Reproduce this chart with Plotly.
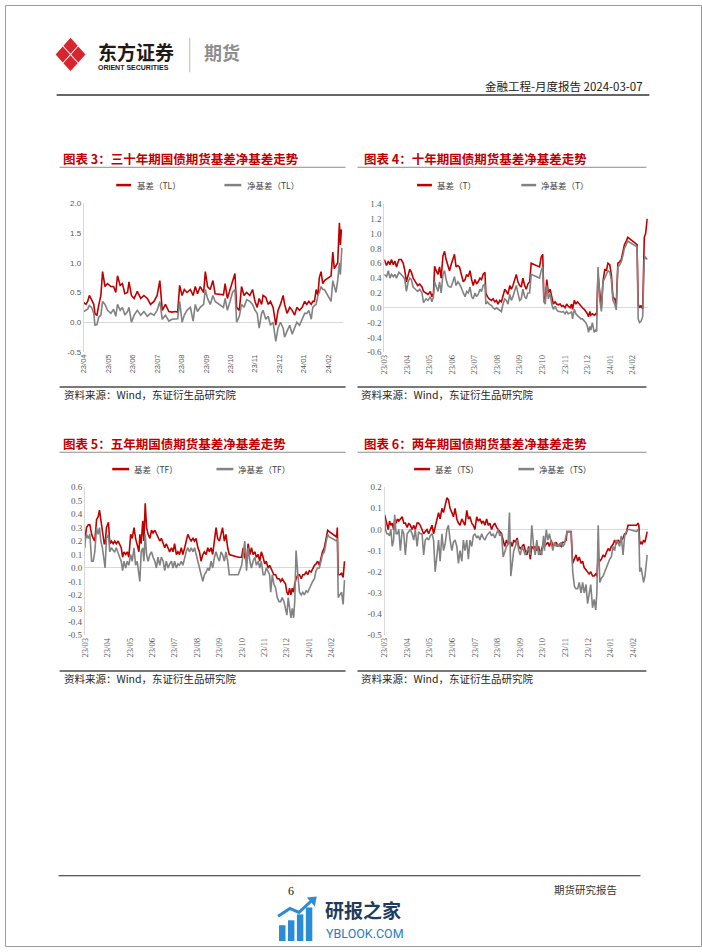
import plotly.graph_objects as go

W, H = 702, 952


def px(x):
    return x / W


def py(y):
    return 1 - y / H


RED = "#C00000"
GRAY = "#828282"
CJK = "Noto Sans CJK SC"

# ---------------- data ----------------
labels_tl = ["23/04", "23/05", "23/06", "23/07", "23/08", "23/09", "23/10", "23/11", "23/12", "24/01", "24/02"]
labels_m = ["23/03", "23/04", "23/05", "23/06", "23/07", "23/08", "23/09", "23/10", "23/11", "23/12", "24/01", "24/02"]

# 30Y (TL): time position in months from first tick
t_tl = [0, 0.09, 0.16, 0.23, 0.32, 0.41, 0.46, 0.54, 0.61, 0.70,
        0.77, 0.87, 0.97, 1.11, 1.22, 1.31, 1.38, 1.49, 1.58, 1.68,
        1.79, 1.85, 1.95, 2.06, 2.19, 2.33, 2.46, 2.60, 2.73, 2.87,
        3.00, 3.11, 3.21, 3.34, 3.48, 3.61, 3.75, 3.84, 3.92, 4.02,
        4.11, 4.22, 4.36, 4.47, 4.56, 4.65, 4.76, 4.90, 4.97, 5.06,
        5.17, 5.28, 5.37, 5.58, 5.71, 5.78, 5.87, 5.98, 6.08, 6.18,
        6.25, 6.36, 6.45, 6.55, 6.66, 6.79, 6.90, 7.00, 7.09, 7.17,
        7.27, 7.33, 7.44, 7.54, 7.63, 7.74, 7.85, 7.94, 8.04, 8.15,
        8.21, 8.31, 8.42, 8.52, 8.62, 8.71, 8.82, 8.93, 9.03, 9.12,
        9.20, 9.30, 9.36, 9.43, 9.50, 9.57, 9.63, 9.70, 9.77, 9.84,
        10.11, 10.18, 10.24, 10.31, 10.38, 10.45, 10.49, 10.53, 10.55]
basis_tl = [0.33, 0.30, 0.35, 0.45, 0.38, 0.30, 0.14, 0.12, 0.28, 0.45,
            0.85, 0.60, 0.65, 0.60, 0.60, 0.50, 0.78, 0.62, 0.65, 0.48,
            0.50, 0.68, 0.45, 0.40, 0.52, 0.40, 0.45, 0.40, 0.30, 0.35,
            0.45, 0.70, 0.20, 0.30, 0.18, 0.17, 0.18, 0.17, 0.62, 0.45,
            0.55, 0.50, 0.55, 0.45, 0.60, 0.48, 0.60, 0.50, 0.85, 0.60,
            0.55, 0.70, 0.48, 0.47, 0.46, 0.65, 0.40, 0.55, 0.70, 0.82,
            0.25, 0.20, 0.60, 0.45, 0.50, 0.45, 0.55, 0.35, 0.25, 0.40,
            0.30, 0.45, 0.42, 0.30, 0.35, 0.25, -0.05, 0.20, 0.30, 0.45,
            0.30, 0.15, 0.25, 0.20, 0.12, 0.25, 0.20, 0.25, 0.35, 0.30,
            0.35, 0.30, 0.35, 0.35, 0.55, 0.45, 0.75, 0.85, 0.65, 0.70,
            0.78, 1.18, 0.90, 0.95, 1.00, 1.67, 1.30, 1.55, 1.55]
net_tl = [0.18, 0.20, 0.22, 0.28, 0.25, 0.15, -0.05, -0.04, 0.08, 0.12,
          0.35, 0.30, 0.20, 0.15, 0.22, 0.10, 0.30, 0.20, 0.25, 0.12,
          0.18, 0.25, 0.00, 0.12, 0.20, 0.12, 0.18, 0.10, 0.15, 0.12,
          0.20, 0.35, 0.05, 0.12, 0.02, 0.05, 0.05, 0.06, 0.35, 0.00,
          0.12, 0.20, 0.25, 0.02, 0.30, 0.18, 0.25, 0.30, 0.55, 0.40,
          0.30, 0.45, 0.35, 0.28, 0.25, 0.40, 0.20, 0.35, 0.50, 0.55,
          0.00, 0.10, 0.30, 0.25, 0.38, 0.35, 0.30, 0.20, 0.15, -0.10,
          0.15, 0.20, 0.05, 0.10, -0.05, 0.00, -0.32, -0.10, 0.00, -0.10,
          -0.25, -0.15, -0.05, -0.20, -0.10, 0.00, -0.05, 0.05, 0.15, 0.15,
          0.20, 0.05, 0.25, 0.28, 0.30, 0.45, 0.50, 0.60, 0.55, 0.55,
          0.35, 0.70, 0.60, 0.50, 0.70, 1.00, 0.80, 1.20, 1.25]

# 10Y (T)
t_t = [0, 0.10, 0.18, 0.25, 0.32, 0.40, 0.47, 0.54, 0.65, 0.75,
       0.84, 0.91, 0.98, 1.06, 1.13, 1.20, 1.28, 1.38, 1.48, 1.57,
       1.67, 1.74, 1.85, 1.94, 2.04, 2.11, 2.18, 2.23, 2.30, 2.38,
       2.45, 2.52, 2.60, 2.67, 2.74, 2.82, 2.89, 2.96, 3.04, 3.11,
       3.18, 3.26, 3.33, 3.40, 3.50, 3.58, 3.65, 3.72, 3.80, 3.87,
       3.94, 4.02, 4.09, 4.16, 4.24, 4.31, 4.38, 4.46, 4.50, 4.57,
       4.65, 4.75, 4.82, 4.90, 4.97, 5.04, 5.12, 5.19, 5.26, 5.34,
       5.41, 5.48, 5.56, 5.63, 5.70, 5.78, 5.85, 5.92, 6.00, 6.07,
       6.14, 6.22, 6.29, 6.36, 6.44, 6.51, 6.88, 6.95, 7.02, 7.07,
       7.13, 7.20, 7.27, 7.35, 7.42, 7.49, 7.57, 7.64, 7.71, 7.79,
       7.86, 7.93, 8.01, 8.08, 8.15, 8.23, 8.30, 8.34, 8.42, 8.49,
       8.56, 8.64, 8.71, 8.78, 8.86, 8.93, 9.00, 9.05, 9.11, 9.15,
       9.22, 9.30, 9.37, 9.41, 9.47, 9.55, 9.62, 9.69, 9.77, 9.84,
       9.91, 9.99, 10.06, 10.13, 10.21, 10.28, 10.35, 10.43, 10.50, 10.57,
       10.64, 10.72, 10.79, 10.88, 11.20, 11.25, 11.31, 11.38, 11.45, 11.52,
       11.58, 11.65]
basis_t = [0.65, 0.57, 0.63, 0.58, 0.65, 0.58, 0.63, 0.55, 0.65, 0.65,
           0.60, 0.50, 0.35, 0.45, 0.52, 0.48, 0.40, 0.35, 0.30, 0.32,
           0.28, 0.22, 0.20, 0.18, 0.22, 0.15, 0.20, 0.56, 0.50, 0.45,
           0.55, 0.40, 0.70, 0.76, 0.65, 0.55, 0.50, 0.58, 0.65, 0.72,
           0.55, 0.57, 0.55, 0.45, 0.35, 0.38, 0.45, 0.42, 0.50, 0.38,
           0.30, 0.38, 0.32, 0.35, 0.40, 0.38, 0.45, 0.48, 0.20, 0.15,
           0.12, 0.10, 0.12, 0.08, 0.10, 0.05, 0.10, 0.08, 0.18, 0.25,
           0.22, 0.18, 0.30, 0.25, 0.30, 0.38, 0.45, 0.35, 0.30, 0.28,
           0.40, 0.30, 0.25, 0.32, 0.35, 0.60, 0.55, 0.68, 0.72, 0.15,
           0.10, 0.38, 0.20, 0.25, 0.12, 0.05, 0.08, 0.05, 0.04, 0.05,
           0.02, 0.03, 0.00, 0.05, 0.02, 0.00, 0.05, -0.02, 0.10, 0.05,
           0.08, 0.05, 0.02, 0.00, -0.02, -0.05, -0.08, -0.12, -0.05, -0.10,
           -0.08, -0.10, -0.08, -0.10, 0.45, 0.20, 0.00, 0.35, 0.52, 0.50,
           0.60, 0.58, 0.45, 0.15, 0.12, 0.05, 0.60, 0.62, 0.65, 0.75,
           0.85, 0.90, 0.95, 0.93, 0.85, 0.05, 0.00, 0.03, -0.02, 0.95,
           1.00, 1.20]
net_t = [0.45, 0.42, 0.50, 0.40, 0.45, 0.42, 0.45, 0.40, 0.48, 0.45,
         0.42, 0.38, 0.22, 0.35, 0.40, 0.38, 0.28, 0.25, 0.22, 0.25,
         0.20, 0.07, 0.12, 0.10, 0.15, 0.08, 0.15, 0.35, 0.30, 0.22,
         0.35, 0.20, 0.45, 0.50, 0.38, 0.30, 0.28, 0.28, 0.35, 0.42,
         0.30, 0.35, 0.32, 0.28, 0.20, 0.15, 0.22, 0.20, 0.28, 0.15,
         0.12, 0.20, 0.15, 0.18, 0.25, 0.22, 0.30, 0.32, 0.05, 0.08,
         0.05, 0.03, 0.00, -0.02, 0.00, -0.02, -0.03, -0.05, 0.05, 0.12,
         0.10, 0.05, 0.18, 0.10, 0.15, 0.22, 0.30, 0.20, 0.10, 0.12,
         0.25, 0.15, 0.12, 0.20, 0.20, 0.45, 0.40, 0.50, 0.55, 0.08,
         0.05, 0.30, 0.12, 0.20, 0.05, -0.02, 0.02, -0.03, -0.05, -0.05,
         -0.06, -0.05, -0.08, -0.05, -0.08, -0.07, -0.05, -0.15, -0.02, -0.08,
         -0.10, -0.12, -0.15, -0.15, -0.18, -0.20, -0.25, -0.33, -0.25, -0.30,
         -0.20, -0.33, -0.30, -0.32, 0.55, 0.10, -0.05, 0.35, 0.40, 0.45,
         0.50, 0.48, 0.38, 0.10, 0.05, -0.03, 0.55, 0.58, 0.62, 0.70,
         0.80, 0.85, 0.90, 0.88, 0.82, -0.15, -0.20, -0.18, -0.12, 0.65,
         0.68, 0.65]

# 5Y (TF)
t_tf = [0, 0.01, 0.07, 0.15, 0.22, 0.30, 0.37, 0.44, 0.52, 0.59,
        0.65, 0.71, 0.78, 0.86, 0.90, 0.96, 1.05, 1.11, 1.18, 1.26,
        1.33, 1.40, 1.48, 1.55, 1.62, 1.68, 1.74, 1.82, 1.89, 1.96,
        2.04, 2.11, 2.19, 2.26, 2.33, 2.41, 2.45, 2.51, 2.58, 2.63,
        2.69, 2.75, 2.82, 2.90, 2.97, 3.04, 3.12, 3.19, 3.26, 3.34,
        3.41, 3.49, 3.56, 3.63, 3.71, 3.78, 3.86, 3.93, 4.00, 4.08,
        4.15, 4.22, 4.30, 4.37, 4.45, 4.52, 4.59, 4.67, 4.74, 4.82,
        4.89, 4.96, 5.04, 5.11, 5.18, 5.26, 5.33, 5.41, 5.48, 5.55,
        5.63, 5.70, 5.78, 5.85, 5.92, 6.00, 6.07, 6.14, 6.22, 6.29,
        6.37, 6.44, 6.84, 6.99, 7.06, 7.13, 7.21, 7.28, 7.36, 7.43,
        7.50, 7.58, 7.65, 7.73, 7.80, 7.87, 7.95, 8.02, 8.09, 8.17,
        8.24, 8.29, 8.36, 8.43, 8.51, 8.58, 8.66, 8.73, 8.80, 8.88,
        8.95, 9.01, 9.07, 9.13, 9.19, 9.25, 9.31, 9.36, 9.42, 9.50,
        9.57, 9.65, 9.72, 9.79, 9.87, 9.94, 10.01, 10.09, 10.16, 10.24,
        10.31, 10.38, 10.46, 10.53, 10.60, 10.68, 10.75, 10.83, 10.90, 11.23,
        11.26, 11.30, 11.37, 11.45, 11.52, 11.58]
basis_tf = [0.25, 0.22, 0.30, 0.32, 0.32, 0.25, 0.22, 0.20, 0.36, 0.38,
            0.43, 0.35, 0.25, 0.18, 0.18, 0.30, 0.34, 0.18, 0.20, 0.18,
            0.20, 0.18, 0.20, 0.18, 0.15, 0.08, 0.12, 0.10, 0.12, 0.08,
            0.25, 0.22, 0.30, 0.22, 0.18, 0.12, 0.25, 0.18, 0.35, 0.20,
            0.48, 0.30, 0.25, 0.22, 0.28, 0.26, 0.28, 0.25, 0.22, 0.20,
            0.22, 0.18, 0.15, 0.18, 0.15, 0.12, 0.15, 0.12, 0.18, 0.10,
            0.12, 0.10, 0.15, 0.10, 0.15, 0.20, 0.25, 0.22, 0.20, 0.22,
            0.20, 0.22, 0.15, 0.12, 0.05, 0.10, 0.12, 0.10, 0.15, 0.12,
            0.15, 0.10, 0.20, 0.30, 0.22, 0.20, 0.25, 0.30, 0.20, 0.25,
            0.15, 0.10, 0.08, 0.08, 0.15, 0.08, 0.05, 0.18, 0.10, 0.15,
            0.10, 0.12, 0.08, 0.10, 0.05, 0.12, 0.08, 0.03, 0.05, 0.00,
            0.02, 0.00, -0.02, -0.05, -0.05, -0.08, -0.08, -0.10, -0.08, -0.10,
            -0.12, -0.18, -0.20, -0.15, -0.20, -0.15, -0.18, -0.12, -0.08, -0.05,
            -0.05, -0.08, -0.05, -0.05, -0.03, -0.05, -0.02, -0.03, 0.00, 0.02,
            0.03, 0.05, 0.02, 0.08, 0.12, 0.15, 0.20, 0.28, 0.27, 0.23,
            0.30, -0.05, -0.05, -0.04, -0.07, 0.05]
net_tf = [0.15, 0.20, 0.25, 0.22, 0.25, 0.05, 0.05, 0.12, 0.30, 0.25,
          0.30, 0.20, 0.15, 0.05, 0.00, 0.22, 0.25, 0.12, 0.15, 0.13,
          0.12, 0.15, 0.12, 0.08, 0.05, -0.02, 0.05, 0.00, 0.05, 0.02,
          0.10, 0.05, 0.15, 0.02, 0.05, -0.05, -0.10, 0.12, 0.15, 0.05,
          0.25, 0.10, 0.05, 0.10, 0.12, 0.08, 0.05, 0.00, 0.08, 0.02,
          0.08, 0.05, -0.02, 0.05, 0.00, 0.03, 0.05, 0.00, 0.05, 0.00,
          0.03, 0.02, 0.05, 0.02, 0.08, 0.12, 0.15, 0.12, 0.15, 0.12,
          0.15, 0.10, 0.05, 0.00, -0.05, -0.10, -0.05, -0.03, 0.00, -0.02,
          0.05, 0.00, 0.08, 0.12, 0.08, 0.05, 0.12, 0.10, 0.05, 0.12,
          0.05, -0.05, -0.05, 0.02, 0.10, 0.20, -0.02, 0.15, 0.05, 0.00,
          0.05, 0.08, 0.02, 0.05, 0.00, 0.05, -0.05, -0.05, 0.00, -0.03,
          -0.05, -0.18, -0.05, -0.12, -0.15, -0.22, -0.25, -0.25, -0.22, -0.25,
          -0.30, -0.35, -0.22, -0.30, -0.37, -0.30, -0.37, -0.25, 0.13, -0.05,
          -0.18, -0.20, -0.18, -0.20, -0.17, -0.18, -0.15, -0.12, -0.10, -0.08,
          -0.02, 0.00, 0.00, 0.05, 0.10, 0.12, 0.18, 0.25, 0.23, 0.20,
          0.22, -0.22, -0.20, -0.18, -0.27, -0.09]

# 2Y (TS)
t_ts = [0, 0.04, 0.10, 0.16, 0.22, 0.28, 0.34, 0.40, 0.45, 0.51,
        0.57, 0.63, 0.70, 0.78, 0.85, 0.92, 1.00, 1.07, 1.14, 1.22,
        1.29, 1.36, 1.44, 1.51, 1.58, 1.66, 1.73, 1.80, 1.88, 1.95,
        2.02, 2.10, 2.17, 2.24, 2.32, 2.39, 2.46, 2.54, 2.61, 2.68,
        2.76, 2.83, 2.90, 2.98, 3.05, 3.12, 3.20, 3.27, 3.34, 3.42,
        3.49, 3.56, 3.64, 3.71, 3.78, 3.86, 3.93, 4.00, 4.08, 4.15,
        4.22, 4.30, 4.37, 4.44, 4.52, 4.59, 4.66, 4.74, 4.81, 4.88,
        4.96, 5.03, 5.10, 5.18, 5.25, 5.32, 5.40, 5.47, 5.53, 5.59,
        5.65, 5.72, 5.79, 5.87, 5.94, 6.01, 6.09, 6.16, 6.23, 6.30,
        6.38, 6.45, 6.52, 6.60, 6.67, 6.74, 6.82, 6.89, 6.96, 7.04,
        7.08, 7.16, 7.23, 7.30, 7.38, 7.45, 7.52, 7.60, 7.67, 7.74,
        7.82, 7.89, 7.96, 8.04, 8.08, 8.26, 8.33, 8.41, 8.48, 8.55,
        8.62, 8.70, 8.77, 8.84, 8.92, 8.99, 9.06, 9.13, 9.21, 9.28,
        9.35, 9.40, 9.46, 9.53, 9.60, 9.68, 9.75, 9.82, 9.90, 9.97,
        10.04, 10.12, 10.19, 10.26, 10.34, 10.41, 10.48, 10.56, 10.63, 10.70,
        10.78, 10.84, 11.16, 11.22, 11.26, 11.30, 11.36, 11.41, 11.47, 11.53,
        11.60, 11.63]
basis_ts = [0.07, 0.05, 0.02, 0.00, 0.04, 0.02, 0.03, 0.00, 0.05, 0.03,
            0.05, 0.04, 0.05, 0.06, 0.03, 0.03, 0.01, 0.03, 0.02, 0.00,
            0.02, 0.00, 0.03, 0.03, 0.02, 0.00, -0.02, -0.01, 0.00, -0.02,
            0.00, 0.02, -0.02, 0.01, 0.05, 0.08, 0.05, 0.10, 0.08, 0.12,
            0.15, 0.14, 0.10, 0.08, 0.06, 0.10, 0.05, 0.03, 0.02, 0.05,
            0.03, 0.02, 0.09, 0.05, 0.06, 0.03, 0.02, 0.00, 0.06, 0.04,
            0.05, 0.03, 0.04, 0.02, 0.05, 0.02, 0.03, 0.00, 0.02, 0.03,
            0.01, 0.00, -0.01, -0.02, -0.05, -0.08, -0.05, -0.07, -0.06, -0.06,
            -0.08, -0.05, -0.06, -0.04, -0.08, -0.09, -0.08, -0.07, -0.10, -0.12,
            -0.08, -0.14, -0.08, -0.09, -0.08, -0.10, -0.08, -0.12, -0.09, -0.07,
            -0.08, -0.07, -0.06, -0.08, -0.05, -0.08, -0.07, -0.06, -0.08, -0.07,
            -0.08, -0.06, -0.06, -0.05, -0.01, -0.01, -0.16, -0.14, -0.12, -0.15,
            -0.13, -0.16, -0.15, -0.18, -0.19, -0.20, -0.21, -0.20, -0.22, -0.22,
            -0.21, -0.22, -0.13, -0.15, -0.14, -0.12, -0.13, -0.11, -0.09, -0.10,
            -0.08, -0.07, -0.05, -0.07, -0.05, -0.06, -0.05, -0.04, -0.02, -0.02,
            0.02, 0.02, 0.02, 0.03, 0.02, -0.07, -0.06, -0.07, -0.05, -0.06,
            -0.02, -0.01]
net_ts = [0.05, 0.00, -0.02, -0.02, -0.03, 0.00, -0.08, -0.05, 0.07, -0.02,
          -0.02, 0.00, -0.10, 0.00, -0.02, -0.12, -0.02, -0.01, 0.00, -0.02,
          -0.05, 0.00, -0.08, -0.01, -0.02, -0.02, -0.12, -0.05, -0.04, -0.05,
          -0.03, -0.02, -0.05, -0.20, -0.10, -0.05, -0.15, -0.02, -0.10, -0.07,
          0.00, 0.02, -0.05, -0.10, -0.06, -0.05, -0.08, -0.16, -0.10, -0.15,
          -0.05, -0.10, -0.05, -0.14, -0.05, -0.08, -0.03, -0.02, -0.04, -0.03,
          -0.05, -0.02, -0.04, -0.05, -0.03, -0.02, -0.01, -0.03, -0.02, -0.04,
          -0.02, 0.00, -0.03, -0.02, -0.13, -0.10, -0.08, -0.07, 0.08, -0.22,
          -0.15, -0.10, -0.08, -0.05, -0.10, -0.12, -0.08, -0.10, -0.12, -0.10,
          -0.09, -0.12, 0.02, -0.08, -0.12, -0.05, -0.12, -0.10, -0.12, -0.03,
          -0.10, 0.00, -0.05, -0.02, -0.06, -0.10, -0.06, -0.08, -0.07, -0.08,
          -0.06, -0.08, -0.07, -0.02, -0.01, -0.01, -0.20, -0.27, -0.28, -0.28,
          -0.25, -0.30, -0.25, -0.30, -0.26, -0.35, -0.30, -0.26, -0.37, -0.33,
          -0.38, -0.30, 0.02, -0.25, -0.23, -0.22, -0.20, -0.18, -0.15, -0.14,
          -0.13, -0.08, -0.10, -0.05, -0.06, -0.08, -0.03, -0.12, -0.03, -0.01,
          0.00, 0.00, -0.01, 0.00, -0.01, -0.20, -0.18, -0.22, -0.25, -0.22,
          -0.13, -0.12]

yticks_tl = [-0.5, 0.0, 0.5, 1.0, 1.5, 2.0]
yticks_t = [-0.6, -0.4, -0.2, 0.0, 0.2, 0.4, 0.6, 0.8, 1.0, 1.2, 1.4]
yticks_tf = [-0.5, -0.4, -0.3, -0.2, -0.1, 0.0, 0.1, 0.2, 0.3, 0.4, 0.5, 0.6]
yticks_ts = [-0.5, -0.4, -0.3, -0.2, -0.1, 0.0, 0.1, 0.2]

titles = ["图表 3：三十年期国债期货基差净基差走势", "图表 4：十年期国债期货基差净基差走势",
          "图表 5：五年期国债期货基差净基差走势", "图表 6：两年期国债期货基差净基差走势"]
codes = ["TL", "T", "TF", "TS"]
source_text = "资料来源：Wind，东证衍生品研究院"

# ---------------- layout of the four panels ----------------
panels = [
    dict(t=t_tl, a=basis_tl, b=net_tl, xl=labels_tl, yt=yticks_tl,
         xdom=[79.3, 340.5], ydom=[350.7, 200.3], xr=[0, 10.6], yr=[-0.5, 2.0],
         fam="Liberation Sans", fs=7.5, yfs=8,
         tx=56, ty=155, ux=[55, 343], uy=164, ly=182,
         leg=[112, 127, 131, 221, 238, 242], sy=394, sly=386, sx=[55, 343]),
    dict(t=t_t, a=basis_t, b=net_t, xl=labels_m, yt=yticks_t,
         xdom=[382, 647.5], ydom=[351, 201], xr=[0, 11.68], yr=[-0.6, 1.4],
         fam="Liberation Serif", fs=8.5, yfs=9,
         tx=360, ty=155, ux=[355, 646], uy=164, ly=182,
         leg=[415, 430, 433, 520, 535, 538], sy=394, sly=386, sx=[355, 646]),
    dict(t=t_tf, a=basis_tf, b=net_tf, xl=labels_m, yt=yticks_tf,
         xdom=[80.5, 343.5], ydom=[637, 487.3], xr=[0, 11.65], yr=[-0.5, 0.6],
         fam="Liberation Serif", fs=8.5, yfs=9,
         tx=56, ty=443, ux=[55, 343], uy=452, ly=469,
         leg=[108, 125, 128, 213, 230, 233], sy=681, sly=673, sx=[55, 343]),
    dict(t=t_ts, a=basis_ts, b=net_ts, xl=labels_m, yt=yticks_ts,
         xdom=[382.3, 647.5], ydom=[637, 487.3], xr=[0, 11.66], yr=[-0.5, 0.2],
         fam="Liberation Serif", fs=8.5, yfs=9,
         tx=360, ty=443, ux=[355, 646], uy=452, ly=469,
         leg=[412, 428, 431, 517, 533, 536], sy=681, sly=673, sx=[355, 646]),
]

fig = go.Figure()
shapes = []
annots = []
layout_axes = {}

for i, p in enumerate(panels):
    k = "" if i == 0 else str(i + 1)
    xa, ya = "x" + k, "y" + k
    fig.add_trace(go.Scatter(x=p["t"], y=p["a"], mode="lines", xaxis=xa, yaxis=ya,
                             line=dict(color=RED, width=1.6), showlegend=False, hoverinfo="skip"))
    fig.add_trace(go.Scatter(x=p["t"], y=p["b"], mode="lines", xaxis=xa, yaxis=ya,
                             line=dict(color=GRAY, width=1.6), showlegend=False, hoverinfo="skip"))
    layout_axes["xaxis" + k] = dict(
        domain=[px(p["xdom"][0]), px(p["xdom"][1])], range=p["xr"], anchor=ya,
        tickmode="array", tickvals=list(range(len(p["xl"]))), ticktext=p["xl"],
        tickangle=-90, showgrid=False, zeroline=False, showline=False, ticks="",
        tickfont=dict(family=p["fam"], size=p["fs"], color="#595959"), fixedrange=True)
    layout_axes["yaxis" + k] = dict(
        domain=[py(p["ydom"][0]), py(p["ydom"][1])], range=p["yr"], anchor=xa,
        tickmode="array", tickvals=p["yt"], ticktext=[f"{v:.1f}" for v in p["yt"]],
        showgrid=False, zeroline=True, zerolinecolor="#D9D9D9", zerolinewidth=1,
        showline=True, linecolor="#D9D9D9", linewidth=1, ticks="",
        tickfont=dict(family=p["fam"], size=p["yfs"], color="#595959"), fixedrange=True)

    # title
    annots.append(dict(x=px(p["tx"]), y=py(p["ty"]), xref="paper", yref="paper",
                       text="<b>" + titles[i] + "</b>", showarrow=False, xanchor="left", yanchor="middle",
                       font=dict(family=CJK, size=12.5, color=RED)))
    shapes.append(dict(type="line", xref="paper", yref="paper",
                       x0=px(p["ux"][0]), x1=px(p["ux"][1]), y0=py(p["uy"]), y1=py(p["uy"]),
                       line=dict(color="#8C8C8C", width=1)))
    # legend
    lg = p["leg"]
    shapes.append(dict(type="line", xref="paper", yref="paper", x0=px(lg[0]), x1=px(lg[1]),
                       y0=py(p["ly"]), y1=py(p["ly"]), line=dict(color=RED, width=2.5)))
    shapes.append(dict(type="line", xref="paper", yref="paper", x0=px(lg[3]), x1=px(lg[4]),
                       y0=py(p["ly"]), y1=py(p["ly"]), line=dict(color=GRAY, width=2.5)))
    annots.append(dict(x=px(lg[2]), y=py(p["ly"]), xref="paper", yref="paper",
                       text="基差（" + codes[i] + "）", showarrow=False, xanchor="left", yanchor="middle",
                       font=dict(family=CJK, size=8.5, color="#404040")))
    annots.append(dict(x=px(lg[5]), y=py(p["ly"]), xref="paper", yref="paper",
                       text="净基差（" + codes[i] + "）", showarrow=False, xanchor="left", yanchor="middle",
                       font=dict(family=CJK, size=8.5, color="#404040")))
    # source
    shapes.append(dict(type="line", xref="paper", yref="paper",
                       x0=px(p["sx"][0]), x1=px(p["sx"][1]), y0=py(p["sly"]), y1=py(p["sly"]),
                       line=dict(color="#4D4D4D", width=1.5)))
    annots.append(dict(x=px(p["sx"][0] + 2), y=py(p["sy"]), xref="paper", yref="paper",
                       text=source_text, showarrow=False, xanchor="left", yanchor="middle",
                       font=dict(family=CJK, size=10.5, color="#262626")))

# ---------------- page header / footer ----------------
def diamond(cx, cy, hw, hh, color):
    path = (f"M {px(cx)} {py(cy - hh)} L {px(cx + hw)} {py(cy)} "
            f"L {px(cx)} {py(cy + hh)} L {px(cx - hw)} {py(cy)} Z")
    return dict(type="path", xref="paper", yref="paper", path=path,
                fillcolor=color, line=dict(width=0))

LOGO = "#D9232D"
lx, lyc = 66, 50
shapes += [diamond(lx, lyc - 8.8, 7.2, 8.0, LOGO), diamond(lx, lyc + 8.8, 7.2, 8.0, LOGO),
           diamond(lx - 7.8, lyc, 7.2, 8.0, LOGO), diamond(lx + 7.8, lyc, 7.2, 8.0, LOGO)]

annots.append(dict(x=px(92), y=py(47), xref="paper", yref="paper", text="<b>东方证券</b>",
                   showarrow=False, xanchor="left", yanchor="middle",
                   font=dict(family=CJK, size=19, color="#231815")))
annots.append(dict(x=px(92), y=py(63), xref="paper", yref="paper", text="<b>ORIENT SECURITIES</b>",
                   showarrow=False, xanchor="left", yanchor="middle",
                   font=dict(family="Liberation Sans", size=7, color="#231815")))
shapes.append(dict(type="line", xref="paper", yref="paper", x0=px(186), x1=px(186),
                   y0=py(33), y1=py(68), line=dict(color="#CFC6B4", width=1.2)))
annots.append(dict(x=px(198), y=py(47), xref="paper", yref="paper", text="<b>期货</b>",
                   showarrow=False, xanchor="left", yanchor="middle",
                   font=dict(family=CJK, size=18, color="#8E8E8E")))
annots.append(dict(x=px(645), y=py(82), xref="paper", yref="paper", text="金融工程-月度报告 2024-03-07",
                   showarrow=False, xanchor="right", yanchor="middle",
                   font=dict(family=CJK, size=11.5, color="#1A1A1A")))
shapes.append(dict(type="line", xref="paper", yref="paper", x0=px(52), x1=px(649),
                   y0=py(91), y1=py(91), line=dict(color="#333333", width=1.5)))

shapes.append(dict(type="line", xref="paper", yref="paper", x0=px(54), x1=px(640),
                   y0=py(880), y1=py(880), line=dict(color="#222222", width=1)))
annots.append(dict(x=px(288), y=py(895), xref="paper", yref="paper", text="6",
                   showarrow=False, xanchor="center", yanchor="middle",
                   font=dict(family="Liberation Serif", size=12, color="#111111")))
annots.append(dict(x=px(618), y=py(894), xref="paper", yref="paper", text="期货研究报告",
                   showarrow=False, xanchor="right", yanchor="middle",
                   font=dict(family=CJK, size=10.5, color="#333333")))

# watermark
WB = "#2A8BD6"
for bx, top in [(276, 930), (285, 925), (294, 919), (303, 912)]:
    shapes.append(dict(type="rect", xref="paper", yref="paper", x0=px(bx), x1=px(bx + 6.5),
                       y0=py(946), y1=py(top), fillcolor=WB, line=dict(width=0)))
shapes.append(dict(type="path", xref="paper", yref="paper",
                   path=f"M {px(275)} {py(921)} L {px(287)} {py(913)} L {px(296)} {py(917)} L {px(309)} {py(905)}",
                   line=dict(color=WB, width=3)))
shapes.append(dict(type="path", xref="paper", yref="paper",
                   path=f"M {px(304)} {py(902)} L {px(314)} {py(901)} L {px(312)} {py(911)} Z",
                   fillcolor=WB, line=dict(width=0)))
annots.append(dict(x=px(320), y=py(914), xref="paper", yref="paper", text="<b>研报之家</b>",
                   showarrow=False, xanchor="left", yanchor="middle",
                   font=dict(family=CJK, size=19, color="#1F3B5E")))
annots.append(dict(x=px(321), y=py(938), xref="paper", yref="paper", text="YBLOOK.COM",
                   showarrow=False, xanchor="left", yanchor="middle",
                   font=dict(family="Roboto", size=12.5, color="#2A7CC4")))

# page border
shapes.append(dict(type="rect", xref="paper", yref="paper", x0=px(0.5), x1=px(701.5),
                   y0=py(951.5), y1=py(0.5), line=dict(color="#9A9A9A", width=1)))

fig.update_layout(
    width=W, height=H, autosize=False,
    margin=dict(l=0, r=0, t=0, b=0, pad=0),
    paper_bgcolor="white", plot_bgcolor="white",
    shapes=shapes, annotations=annots, showlegend=False,
    **layout_axes,
)

fig.write_html("out.html", config={"displayModeBar": False},
               post_script="document.body.style.margin='0';document.body.style.overflow='hidden';")
